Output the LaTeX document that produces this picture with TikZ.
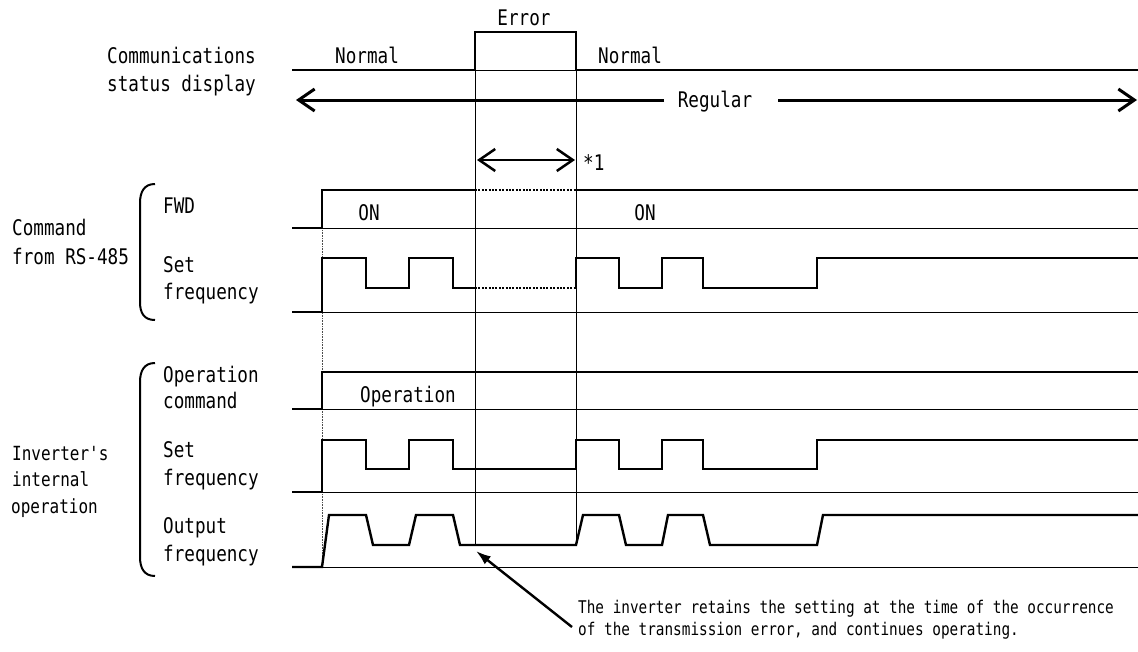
\documentclass[tikz,border=0pt]{standalone}
\usepackage{fontspec}
\newfontfamily\gfont[FakeStretch=0.82]{DejaVu Sans Mono}
\usetikzlibrary{arrows.meta}
\begin{document}
\begin{tikzpicture}[x=1pt,y=-1pt,
  sig/.style={line width=2.4pt, line join=miter},
  refline/.style={line width=0.9pt},
  dotsig/.style={line width=2.4pt, dash pattern=on 2pt off 1.4pt},
  guide/.style={line width=0.7pt, dash pattern=on 1pt off 0.6pt, black!70},
  brk/.style={line width=2pt},
  lbl/.style={font=\gfont\fontsize{21.5}{24}\selectfont, inner sep=0pt},
  lbls/.style={font=\gfont\fontsize{19.5}{22}\selectfont, inner sep=0pt},
  note/.style={font=\gfont\fontsize{17.5}{20}\selectfont, inner sep=0pt},
  barb/.style={line width=3pt, {Straight Barb[length=16pt,width=22pt]}-{Straight Barb[length=16pt,width=22pt]}}
]
\fill[white] (0,0) rectangle (1138,651);
\useasboundingbox (0,0) rectangle (1138,651);

% ---------- labels ----------
\node[lbl, anchor=base west] (comm1) at (107,63) {Communications};
\node[lbl, anchor=base west] (comm2) at (107,91) {status display};
\node[lbl, anchor=base west] (norm1) at (335,63) {Normal};
\node[lbl, anchor=base west] (norm2) at (598,63) {Normal};
\node[lbl, anchor=base] (err) at (524,25) {Error};
\node[lbl, anchor=base] (reg) at (715,107) {Regular};
\node[lbl, anchor=base west] (star) at (583,170) {*1};

\node[lbl, anchor=base west] (cmd1) at (12,235) {Command};
\node[lbl, anchor=base west] (cmd2) at (12,264) {from RS-485};
\node[lbl, anchor=base west] (fwd) at (163,213) {FWD};
\node[lbl, anchor=base west] (sf1a) at (163,272) {Set};
\node[lbl, anchor=base west] (sf1b) at (163,299) {frequency};
\node[lbl, anchor=base] (on1) at (369,220) {ON};
\node[lbl, anchor=base] (on2) at (645,220) {ON};

\node[lbls, anchor=base west] (inv1) at (12,460) {Inverter's};
\node[lbls, anchor=base west] (inv2) at (12,486) {internal};
\node[lbls, anchor=base west] (inv3) at (11,513) {operation};
\node[lbl, anchor=base west] (op1) at (163,382) {Operation};
\node[lbl, anchor=base west] (op2) at (163,408) {command};
\node[lbl, anchor=base] (opsig) at (408,402) {Operation};
\node[lbl, anchor=base west] (sf2a) at (163,457) {Set};
\node[lbl, anchor=base west] (sf2b) at (163,485) {frequency};
\node[lbl, anchor=base west] (of1) at (163,533) {Output};
\node[lbl, anchor=base west] (of2) at (163,561) {frequency};

\node[note, anchor=base west] (nt1) at (578,613) {The inverter retains the setting at the time of the occurrence};
\node[note, anchor=base west] (nt2) at (578,635) {of the transmission error, and continues operating.};

% ---------- brackets ----------
\draw[brk] (155,184) .. controls (144,184) and (140,192) .. (140,203) -- (140,302) .. controls (140,313) and (144,320) .. (155,320);
\draw[brk] (155,363) .. controls (144,363) and (140,371) .. (140,382) -- (140,557) .. controls (140,568) and (144,576) .. (155,576);

% ---------- status display ----------
\draw[sig] (292,70) -- (475,70) -- (475,32) -- (576,32) -- (576,70) -- (1138,70);
\draw[refline] (475,70) -- (576,70);
\draw[refline] (475,70) -- (475,545);
\draw[refline] (576,70) -- (576,545);

\coordinate (rl) at (296,100);
\coordinate (rlm) at (664,100);
\coordinate (rrm) at (778,100);
\coordinate (rr) at (1137,100);
\draw[line width=3pt, -{Straight Barb[length=16pt,width=22pt]}] (rlm) -- (rl);
\draw[line width=3pt, -{Straight Barb[length=16pt,width=22pt]}] (rrm) -- (rr);

\coordinate (el) at (477,160);
\coordinate (er) at (575,160);
\draw[line width=2.5pt, {Straight Barb[length=16pt,width=22pt]}-{Straight Barb[length=16pt,width=22pt]}] (el) -- (er);

% ---------- guide at start ----------
\draw[guide] (322,190) -- (322,567);

% ---------- FWD ----------
\draw[refline] (322,228) -- (1138,228);
\draw[sig] (292,228) -- (322,228) -- (322,190) -- (475,190);
\draw[dotsig] (475,190) -- (576,190);
\draw[sig] (576,190) -- (1138,190);

% ---------- Set frequency (RS-485) ----------
\draw[refline] (322,312) -- (1138,312);
\draw[sig] (292,312) -- (322,312) -- (322,258) -- (366,258) -- (366,288) -- (409,288) -- (409,258) -- (453,258) -- (453,288) -- (475,288);
\draw[dotsig] (475,288) -- (576,288);
\draw[sig] (576,288) -- (576,258) -- (619,258) -- (619,288) -- (662,288) -- (662,258) -- (703,258) -- (703,288) -- (817,288) -- (817,258) -- (1138,258);

% ---------- Operation command ----------
\draw[refline] (322,409) -- (1138,409);
\draw[sig] (292,409) -- (322,409) -- (322,372) -- (1138,372);

% ---------- Set frequency (internal) ----------
\draw[refline] (322,492) -- (1138,492);
\draw[sig] (292,492) -- (322,492) -- (322,440) -- (366,440) -- (366,469) -- (409,469) -- (409,440) -- (453,440) -- (453,469) -- (576,469) -- (576,440) -- (619,440) -- (619,469) -- (662,469) -- (662,440) -- (703,440) -- (703,469) -- (817,469) -- (817,440) -- (1138,440);

% ---------- Output frequency ----------
\draw[refline] (322,567) -- (1138,567);
\draw[sig] (292,567) -- (322,567) -- (329,515) -- (366,515) -- (373,545) -- (409,545) -- (416,515) -- (453,515) -- (460,545) -- (576,545) -- (583,515) -- (619,515) -- (626,545) -- (662,545) -- (668,515) -- (703,515) -- (710,545) -- (817,545) -- (823,515) -- (1138,515);

% ---------- annotation arrow ----------
\coordinate (tip) at (476,551);
\coordinate (tail) at (572,627);
\draw[line width=2.4pt, -{Latex[length=15pt,width=10pt]}] (tail) -- (tip);
\end{tikzpicture}
\end{document}
